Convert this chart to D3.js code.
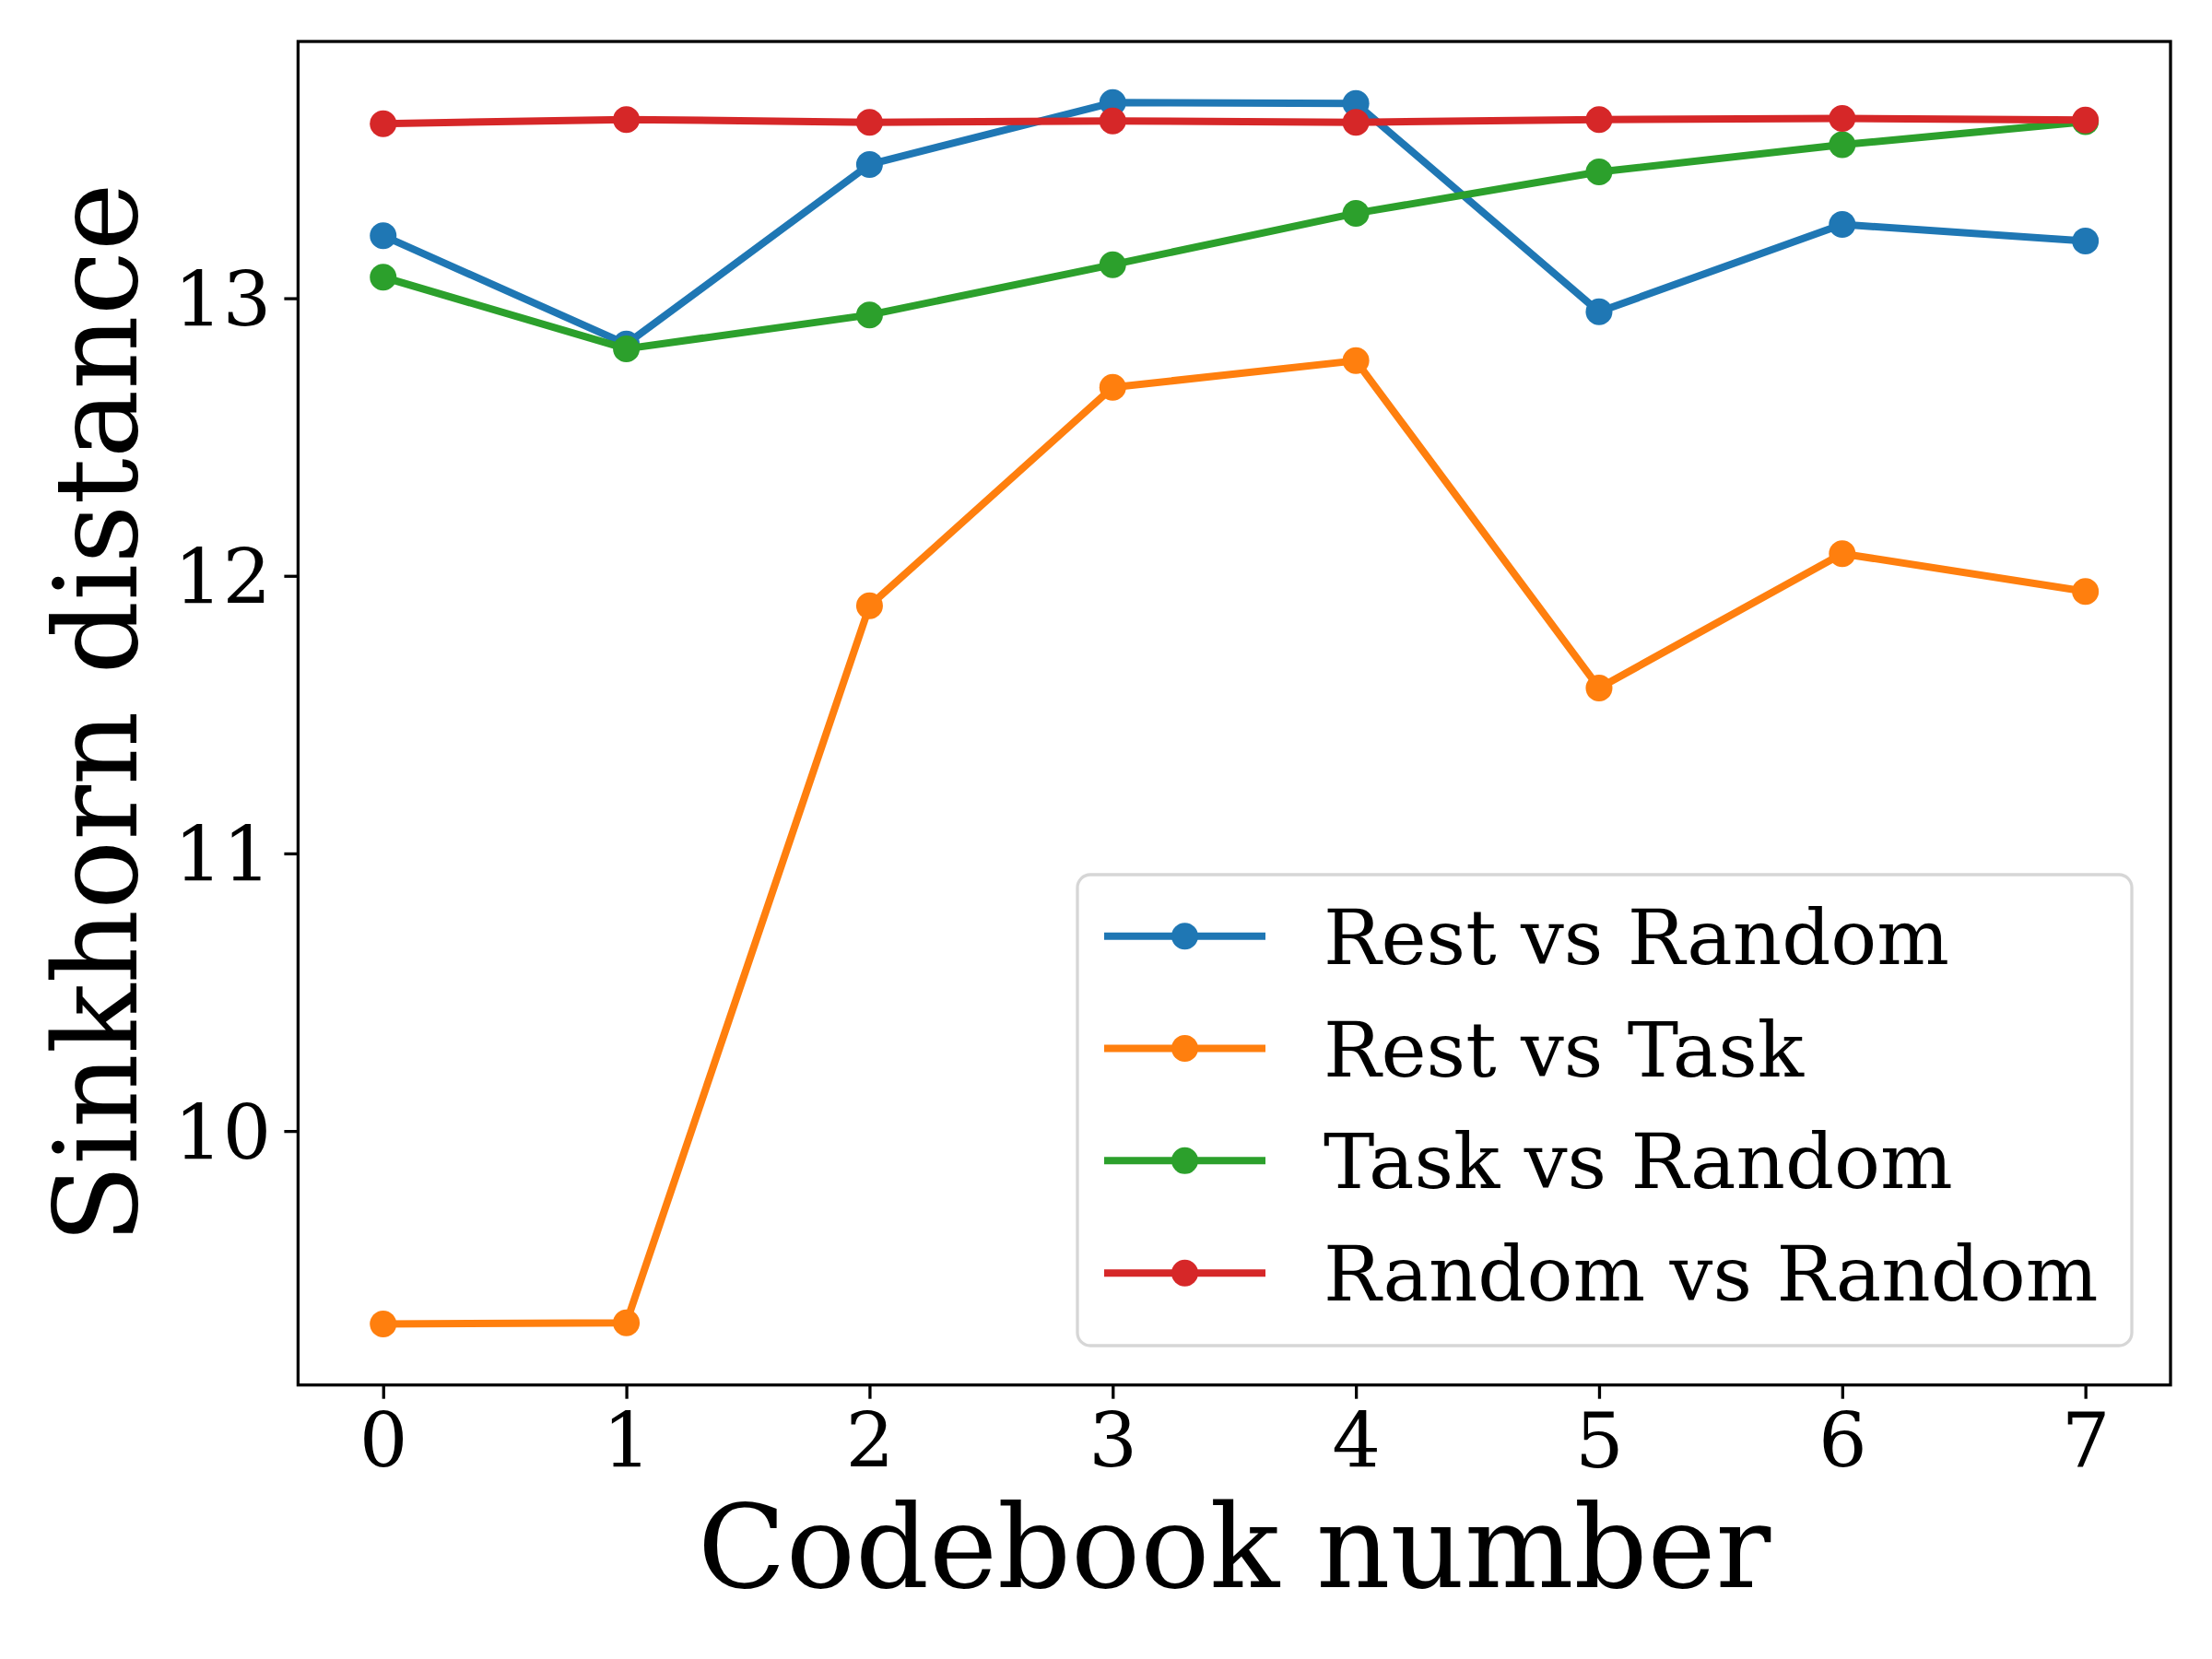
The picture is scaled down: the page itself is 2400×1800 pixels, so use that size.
<!DOCTYPE html>
<html>
<head>
<meta charset="utf-8">
<script src="https://cdn.jsdelivr.net/npm/d3@7"></script>
<style>
body { margin: 0; background: #fff; }
text { font-family: "DejaVu Serif", serif; }
</style>
</head>
<body>
<div class="graphic"></div>
<script>
var width = 2400;
var height = 1800;

// data
var codebooks = [0, 1, 2, 3, 4, 5, 6, 7];
var restVsRandom = [13.225, 12.835, 13.482, 13.705, 13.702, 12.951, 13.266, 13.206];
var restVsTask = [9.305, 9.309, 11.892, 12.679, 12.775, 11.596, 12.080, 11.944];
var taskVsRandom = [13.076, 12.818, 12.940, 13.121, 13.306, 13.455, 13.553, 13.636];
var randomVsRandom = [13.629, 13.644, 13.634, 13.639, 13.634, 13.644, 13.648, 13.642];
var seriesNames = ["Rest vs Random", "Rest vs Task", "Task vs Random", "Random vs Random"];
var seriesColors = ["#1f77b4", "#ff7f0e", "#2ca02c", "#d62728"];
var yTicks = [10, 11, 12, 13];

var series = [restVsRandom, restVsTask, taskVsRandom, randomVsRandom].map(function(vals, i){
	return {name: seriesNames[i], color: seriesColors[i], values: vals};
});

// axes box (window.top is reserved, so no plain "top")
var axLeft = 323.4, axRight = 2355, axTop = 45, axBottom = 1502.7;

var svg = d3.select("div.graphic").append("svg")
	.attr("width", width)
	.attr("height", height);

// matplotlib style 5% margins
var allVals = d3.merge(series.map(function(s){ return s.values; }));
var yMin = d3.min(allVals), yMax = d3.max(allVals);
var yPad = (yMax - yMin) * 0.05;
var xPad = (d3.max(codebooks) - d3.min(codebooks)) * 0.05;

var x = d3.scaleLinear()
	.domain([d3.min(codebooks) - xPad, d3.max(codebooks) + xPad])
	.range([axLeft, axRight]);
var y = d3.scaleLinear()
	.domain([yMin - yPad, yMax + yPad])
	.range([axBottom, axTop]);

var line = d3.line()
	.x(function(d, i){ return x(codebooks[i]); })
	.y(function(d){ return y(d); });

var plot = svg.append("g");
series.forEach(function(s){
	var g = plot.append("g");
	g.append("path")
		.attr("d", line(s.values))
		.attr("fill", "none")
		.attr("stroke", s.color)
		.attr("stroke-width", 8)
		.attr("stroke-linejoin", "round")
		.attr("stroke-linecap", "square");
	g.selectAll("circle")
		.data(s.values)
		.enter()
		.append("circle")
		.attr("cx", function(d, i){ return x(codebooks[i]); })
		.attr("cy", function(d){ return y(d); })
		.attr("r", 14.5)
		.attr("fill", s.color);
});

// axes
var xAxis = svg.append("g")
	.attr("transform", "translate(0," + axBottom + ")")
	.call(d3.axisBottom(x).tickValues(codebooks).tickFormat(d3.format("d")).tickSize(15).tickPadding(14));
var yAxis = svg.append("g")
	.attr("transform", "translate(" + axLeft + ",0)")
	.call(d3.axisLeft(y).tickValues(yTicks).tickFormat(d3.format("d")).tickSize(15).tickPadding(14));

[xAxis, yAxis].forEach(function(ax){
	ax.select(".domain").remove();
	ax.selectAll(".tick line").attr("stroke", "#000").attr("stroke-width", 3.3);
	ax.selectAll(".tick text")
		.attr("fill", "#000")
		.style("font-family", "'DejaVu Serif', serif")
		.style("font-size", "83px");
});
xAxis.selectAll(".tick text").attr("dy", "0.73em");
yAxis.selectAll(".tick text").attr("dy", "0.36em");

// frame
svg.append("rect")
	.attr("x", axLeft)
	.attr("y", axTop)
	.attr("width", axRight - axLeft)
	.attr("height", axBottom - axTop)
	.attr("fill", "none")
	.attr("stroke", "#000")
	.attr("stroke-width", 3.3);

// axis labels
svg.append("text")
	.attr("x", (axLeft + axRight) / 2)
	.attr("y", 1722)
	.attr("text-anchor", "middle")
	.style("font-size", "125px")
	.text("Codebook number");

svg.append("text")
	.attr("transform", "translate(148," + ((axTop + axBottom) / 2) + ") rotate(-90)")
	.attr("text-anchor", "middle")
	.style("font-size", "125px")
	.text("Sinkhorn distance");

// legend
var legend = svg.append("g");
legend.append("rect")
	.attr("x", 1169)
	.attr("y", 949)
	.attr("width", 2313 - 1169)
	.attr("height", 1460 - 949)
	.attr("rx", 14)
	.attr("fill", "#fff")
	.attr("fill-opacity", 0.8)
	.attr("stroke", "#d6d6d6")
	.attr("stroke-width", 3.3);

var rowY = d3.scaleLinear().domain([0, 3]).range([1015.7, 1381.2]);
var items = legend.selectAll("g.item")
	.data(series)
	.enter()
	.append("g")
	.attr("class", "item")
	.attr("transform", function(d, i){ return "translate(0," + rowY(i) + ")"; });
items.append("line")
	.attr("x1", 1198).attr("x2", 1373)
	.attr("y1", 0).attr("y2", 0)
	.attr("stroke", function(d){ return d.color; })
	.attr("stroke-width", 8);
items.append("circle")
	.attr("cx", 1285.5)
	.attr("cy", 0)
	.attr("r", 14.5)
	.attr("fill", function(d){ return d.color; });
items.append("text")
	.attr("x", 1436)
	.attr("y", 30)
	.style("font-size", "83px")
	.text(function(d){ return d.name; });
</script>
</body>
</html>
